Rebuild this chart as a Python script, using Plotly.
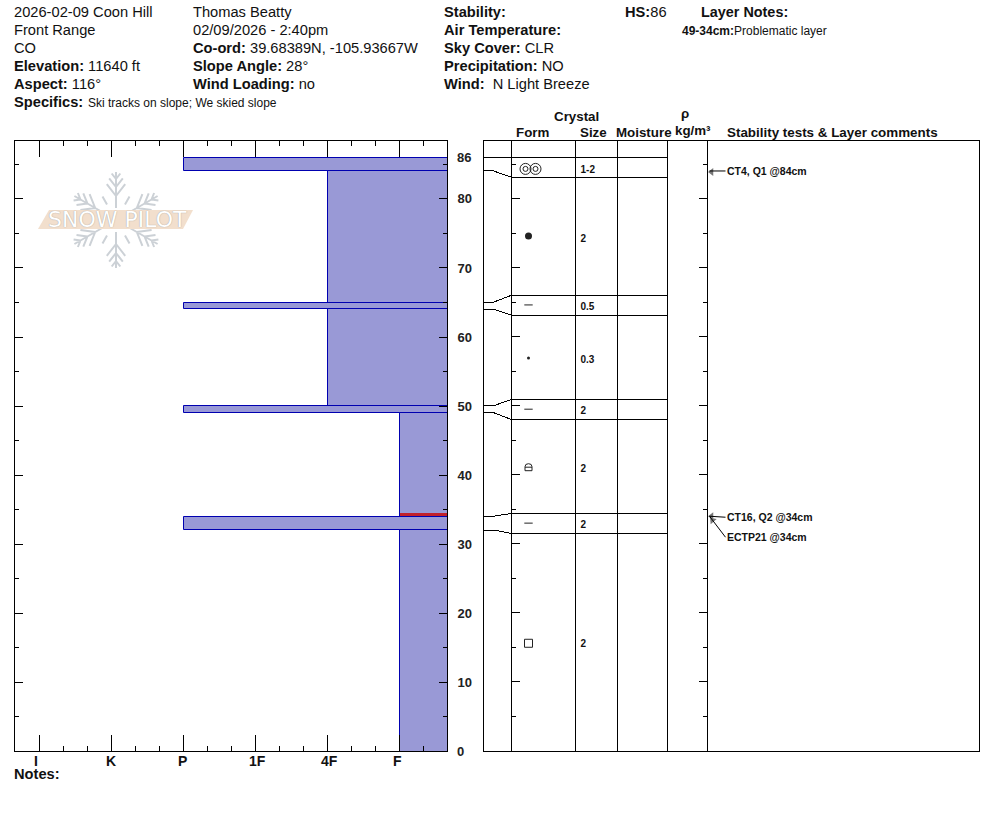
import math
import plotly.graph_objects as go

W, H = 994, 840
FONT = "Liberation Sans"

# Snowpack profile
HS = 86
HARDNESS_LABELS = ["I", "K", "P", "1F", "4F", "F"]
HARDNESS_TICKS = [1, 4, 7, 10, 13, 16]
HARDNESS_LABEL_SHIFTS = [-3.5, -0.5, -1.5, 1.5, 1.5, -2.5]
LAYER_TOPS = [86, 84, 65, 64, 50, 49, 34, 32]
LAYER_BOTTOMS = [84, 65, 64, 50, 49, 34, 32, 0]
LAYER_HARDNESS = ["P", "4F", "P", "4F", "P", "F", "P", "F"]
FAILURE_HEIGHT = 34.3

# Table rows spread out for legibility, heights on the same cm scale
BOUNDARY_HEIGHTS = [84, 65, 64, 50, 49, 34, 32]
BOUNDARY_ROWS = [83.1, 66.0, 63.1, 50.9, 48.0, 34.4, 31.5]
GLYPH_ROWS = [84.3, 74.6, 64.6, 56.9, 49.5, 41.1, 33.0, 15.6]
SIZE_ROWS = [84.1, 74.1, 64.2, 56.6, 49.1, 40.8, 32.6, 15.4]
CRYSTAL_SIZES = ["1-2", "2", "0.5", "0.3", "2", "2", "2", "2"]

# Stability tests: label, height
TEST_LABELS = ["CT4, Q1 @84cm", "CT16, Q2 @34cm", "ECTP21 @34cm"]
TEST_HEIGHTS = [84.0, 34.0, 34.0]

# Table column rules, in page pixels along the table axis
TABLE_LEFT, TABLE_RIGHT = 483, 979
FORM_X, SIZE_X, MOIST_X, RHO_X, COMM_X = 511, 575, 617, 667, 707
GLYPH_X = 528
PLOT_LEFT, PLOT_RIGHT, PLOT_TOP, PLOT_BOTTOM = 15, 447, 141, 751
CM_TOP = 88.34
X_MAX = 18

BLACK = "#000000"
FILL = "#9999d6"
EDGE = "#0000b0"
TEXT = 14.67

# Small sub-pixel nudges keep bar edges on the same pixel rows as the ticks
X_NUDGE, Y_NUDGE = 0.0215, 0.05


def fx(px):
    return px / W


def fy(py):
    return 1 - py / H


def label(x, y, text, size=TEXT, **kw):
    return dict(
        xref="paper", yref="paper", x=fx(x), y=fy(y), text=text, showarrow=False,
        xanchor=kw.pop("xanchor", "left"), yanchor="middle", borderpad=0,
        font=dict(family=FONT, size=size, color=kw.pop("color", "#111111")), **kw,
    )


fig = go.Figure()

# Hardness profile bars; they run past the frame so that only the axis line closes them
hardness_value = dict(zip(HARDNESS_LABELS, HARDNESS_TICKS))
for top, bottom, grade in zip(LAYER_TOPS, LAYER_BOTTOMS, LAYER_HARDNESS):
    start = hardness_value[grade]
    low = bottom if bottom > 0 else -1
    fig.add_trace(go.Bar(
        orientation="h", y=[(top + low) / 2], x=[X_MAX + 1 - start], base=[start],
        width=[top - low], marker=dict(color=FILL, line=dict(color=EDGE, width=1)),
        xaxis="x", yaxis="y", showlegend=False,
    ))

fig.add_trace(go.Scatter(
    x=[hardness_value["F"], X_MAX], y=[FAILURE_HEIGHT, FAILURE_HEIGHT], mode="lines",
    line=dict(color="#c1202c", width=2.5), xaxis="x", yaxis="y", showlegend=False,
))

# Table rules
row_edges = [HS] + BOUNDARY_ROWS
grid_x, grid_y = [], []
for col in (SIZE_X, MOIST_X, RHO_X):
    grid_x += [col, col, None]
    grid_y += [0, CM_TOP, None]
for right in (TABLE_LEFT, TABLE_RIGHT):
    grid_x += [right, right, None]
    grid_y += [0, CM_TOP, None]
for edge in row_edges:
    grid_x += [FORM_X, RHO_X, None]
    grid_y += [edge, edge, None]
grid_x += [TABLE_LEFT, FORM_X, None]
grid_y += [HS, HS, None]
for height, row in zip(BOUNDARY_HEIGHTS, BOUNDARY_ROWS):
    grid_x += [TABLE_LEFT, TABLE_LEFT + 10, FORM_X, None]
    grid_y += [height, height, row, None]
fig.add_trace(go.Scatter(
    x=grid_x, y=grid_y, mode="lines", line=dict(color=BLACK, width=1), cliponaxis=False,
    xaxis="x2", yaxis="y2", showlegend=False,
))
fig.add_trace(go.Scatter(
    x=[SIZE_X, SIZE_X], y=[CM_TOP, CM_TOP + 0.9], mode="lines", cliponaxis=False,
    line=dict(color=BLACK, width=1), xaxis="x2", yaxis="y2", showlegend=False,
))

# Grain form symbols
ink = "#222222"
def glyph(x, y, symbol, size, width=1):
    fig.add_trace(go.Scatter(
        x=x, y=y, mode="markers", xaxis="x2", yaxis="y2", showlegend=False,
        marker=dict(symbol=symbol, size=size, color=ink, line=dict(color=ink, width=width)),
    ))

rings = [GLYPH_X - 3, GLYPH_X + 7]
glyph(rings, [GLYPH_ROWS[0]] * 2, "circle-open", 11)
glyph(rings, [GLYPH_ROWS[0]] * 2, "circle-open", 5)
glyph([GLYPH_X], [GLYPH_ROWS[1]], "circle", 7, 0)
glyph([GLYPH_X] * 3, [GLYPH_ROWS[2], GLYPH_ROWS[4], GLYPH_ROWS[6]], "line-ew", 6)
glyph([GLYPH_X], [GLYPH_ROWS[3]], "circle", 3, 0)
glyph([GLYPH_X], [GLYPH_ROWS[7]], "square-open", 8)

# Crystal sizes
fig.add_trace(go.Scatter(
    x=[SIZE_X + 5] * len(SIZE_ROWS), y=SIZE_ROWS, text=CRYSTAL_SIZES, mode="text",
    textposition="middle right", textfont=dict(family=FONT, size=10, color="#111111", weight="bold"),
    xaxis="x2", yaxis="y2", showlegend=False,
))

# Arrowheads of the stability test callouts, on the comments rule
fig.add_trace(go.Scatter(
    x=[COMM_X + 4, COMM_X + 4, COMM_X + 5], y=[83.85, 34.0, 33.4], mode="markers",
    marker=dict(symbol="triangle-left", size=7, color="#777777", angle=[0, 0, 48]),
    xaxis="x2", yaxis="y3", showlegend=False,
))

annotations = []

# Header block
annotations += [
    label(13, 12, "2026-02-09 Coon Hill"),
    label(13, 30, "Front Range"),
    label(13, 48, "CO"),
    label(13, 66, "<b>Elevation:</b> 11640 ft"),
    label(13, 84, "<b>Aspect:</b> 116°"),
    label(13, 102, "<b>Specifics:</b>"),
    label(87, 103, "Ski tracks on slope; We skied slope", 12),
    label(192, 12, "Thomas Beatty"),
    label(192, 30, "02/09/2026 - 2:40pm"),
    label(192, 48, "<b>Co-ord:</b> 39.68389N, -105.93667W"),
    label(192, 66, "<b>Slope Angle:</b> 28°"),
    label(192, 84, "<b>Wind Loading:</b> no"),
    label(443, 12, "<b>Stability:</b>"),
    label(443, 30, "<b>Air Temperature:</b>"),
    label(443, 48, "<b>Sky Cover:</b> CLR"),
    label(443, 66, "<b>Precipitation:</b> NO"),
    label(443, 84, "<b>Wind:</b>  N Light Breeze"),
    label(624, 12, "<b>HS:</b>86"),
    label(700, 12, "<b>Layer Notes:</b>", 14.4),
    label(681, 31, "<b>49-34cm:</b>Problematic layer", 12),
    label(13, 774, "<b>Notes:</b>"),
]

# Table column headings
annotations += [
    label(552.5, 117, "<b>Crystal</b>", 13.33),
    label(514.5, 132, "<b>Form</b>", 13.33),
    label(578.5, 132, "<b>Size</b>", 13.33),
    label(614.5, 132, "<b>Moisture</b>", 13.33),
    label(680, 114, "<b>ρ</b>", 13.33),
    label(673.5, 130, "<b>kg/m³</b>", 13.33),
    label(725.5, 132, "<b>Stability tests &amp; Layer comments</b>", 13.4),
]

# Hardness scale labels beneath their ticks
for tick, text, shift in zip(HARDNESS_TICKS, HARDNESS_LABELS, HARDNESS_LABEL_SHIFTS):
    annotations.append(dict(
        xref="x", yref="paper", x=tick, y=fy(761), text=f"<b>{text}</b>", showarrow=False,
        xanchor="center", yanchor="middle", xshift=shift, borderpad=0,
        font=dict(family=FONT, size=14, color="#111111"),
    ))

# Depth labels at the snow surface and at the ground, where the axis draws no label of its own
for depth in (HS, 0):
    annotations.append(dict(
        xref="x", yref="y", x=X_MAX - 0.05, y=max(depth, Y_NUDGE), text=f"<b>{depth}</b>", showarrow=False,
        xanchor="left", yanchor="middle", xshift=10, borderpad=0,
        font=dict(family=FONT, size=13, color="#222222"),
    ))

# Stability test callouts
for text, height, ay in zip(TEST_LABELS, TEST_HEIGHTS, (0, 1, 21)):
    annotations.append(dict(
        xref="x2", yref="y2", x=COMM_X + 2, y=height, ax=16, ay=ay, axref="pixel", ayref="pixel",
        text=f"<b>{text}</b>", showarrow=True, arrowhead=0, arrowwidth=1, arrowcolor=BLACK,
        xanchor="left", yanchor="middle", borderpad=0, standoff=0,
        font=dict(family=FONT, size=10.5, color="#111111"),
    ))

# Watermark: flake behind a slanted band with the wordmark
cx, cy = 116, 220
flake = []
for k in range(6):
    a = math.radians(90 + 60 * k)
    ux, uy = math.cos(a), -math.sin(a)
    flake.append(f"M{cx + 12 * ux:.1f},{cy + 12 * uy:.1f}L{cx + 48 * ux:.1f},{cy + 48 * uy:.1f}")
    for dist, blen in ((24, 15), (33, 11), (41, 7)):
        bx, by = cx + dist * ux, cy + dist * uy
        for side in (-1, 1):
            b = a + side * math.radians(38)
            flake.append(f"M{bx:.1f},{by:.1f}L{bx + blen * math.cos(b):.1f},{by - blen * math.sin(b):.1f}")
    m = a + math.radians(30)
    flake.append(f"M{cx + 18 * math.cos(m):.1f},{cy - 18 * math.sin(m):.1f}"
                 f"L{cx + 27 * math.cos(m):.1f},{cy - 27 * math.sin(m):.1f}")


def to_paper(path):
    out = []
    for seg in path.split("M")[1:]:
        p0, p1 = seg.split("L")
        x0, y0 = map(float, p0.split(","))
        x1, y1 = map(float, p1.split(","))
        out.append(f"M{fx(x0):.5f},{fy(y0):.5f}L{fx(x1):.5f},{fy(y1):.5f}")
    return "".join(out)


shapes = [
    dict(type="path", xref="paper", yref="paper", layer="below",
         path=to_paper("".join(flake)), line=dict(color="#ccd1d6", width=2)),
    dict(type="path", xref="paper", yref="paper", layer="below", line=dict(width=0),
         fillcolor="#f2dfcd",
         path=f"M{fx(38)},{fy(229)}L{fx(49)},{fy(210)}L{fx(193)},{fy(210)}L{fx(183)},{fy(229)}Z"),
    # Faceted-rounded grain symbol in the table
    dict(type="path", xref="x2", yref="y2", xsizemode="pixel", ysizemode="pixel",
         xanchor=GLYPH_X, yanchor=GLYPH_ROWS[5],
         path="M-3.5,-3.5L-3.5,0.5Q-3.5,3.5 0,3.5Q3.5,3.5 3.5,0.5L3.5,-3.5ZM-3.5,0L3.5,0",
         line=dict(color=ink, width=1)),
]
annotations.append(dict(
    xref="paper", yref="paper", x=fx(117), y=fy(220), text="SNOW PILOT", showarrow=False,
    xanchor="center", yanchor="middle", borderpad=0,
    font=dict(family="DejaVu Sans", size=22, color="#ffffff", shadow="0px 0px 1px #8a8a8a"),
))

minor_cm = [v for v in range(5, 90, 10)]
major_cm = [v for v in range(10, 90, 10)]
minor_hard = [v for v in range(0, X_MAX + 1) if v not in HARDNESS_TICKS]

y_domain = [fy(PLOT_BOTTOM), fy(PLOT_TOP)]
axis_common = dict(showgrid=False, zeroline=False, linecolor=BLACK, linewidth=1, showline=True,
                   tickcolor=BLACK, tickwidth=1)
minor_y = dict(tickmode="array", tickvals=minor_cm, ticklen=4, tickcolor=BLACK, tickwidth=1, showgrid=False)

fig.update_layout(
    width=W, height=H, margin=dict(l=0, r=0, t=0, b=0, autoexpand=False), autosize=False,
    paper_bgcolor="white", plot_bgcolor="rgba(0,0,0,0)", barmode="overlay", bargap=0,
    showlegend=False, shapes=shapes, annotations=annotations,
    xaxis=dict(
        domain=[fx(PLOT_LEFT), fx(PLOT_RIGHT)], range=[-X_NUDGE, X_MAX - X_NUDGE], anchor="y", mirror="ticks",
        tickmode="array", tickvals=HARDNESS_TICKS, ticks="inside", ticklen=16, showticklabels=False,
        minor=dict(tickmode="array", tickvals=minor_hard, ticks="inside", ticklen=5,
                   tickcolor=BLACK, tickwidth=1, showgrid=False),
        **axis_common,
    ),
    yaxis=dict(
        domain=y_domain, range=[Y_NUDGE, CM_TOP + Y_NUDGE], anchor="x", side="right", mirror="ticks",
        tickmode="array", tickvals=major_cm, ticks="inside", ticklen=8,
        tickfont=dict(family=FONT, size=13, color="#222222", weight="bold"), ticklabelstandoff=7,
        minor=dict(ticks="inside", **minor_y), **axis_common,
    ),
    xaxis2=dict(
        domain=[fx(TABLE_LEFT), fx(TABLE_RIGHT + 1)], range=[TABLE_LEFT - 0.5, TABLE_RIGHT + 0.5], anchor="y2",
        mirror=True, showticklabels=False, ticks="", **axis_common,
    ),
    yaxis2=dict(
        domain=y_domain, range=[0, CM_TOP], anchor="free", position=fx(FORM_X), side="right",
        tickmode="array", tickvals=major_cm, ticks="outside", ticklen=8, showticklabels=False,
        minor=dict(ticks="outside", **minor_y), **axis_common,
    ),
    yaxis3=dict(
        domain=y_domain, range=[0, CM_TOP], anchor="free", position=fx(COMM_X), side="left",
        overlaying="y2",
        tickmode="array", tickvals=major_cm, ticks="outside", ticklen=8, showticklabels=False,
        minor=dict(ticks="outside", **minor_y), **axis_common,
    ),
)

# Hairline rules and connectors render without anti-aliasing
crisp = "document.querySelectorAll('.scatterlayer .js-line').forEach(function(p){p.style.shapeRendering='crispEdges';});"
fig.write_html("out.html", post_script=crisp)
